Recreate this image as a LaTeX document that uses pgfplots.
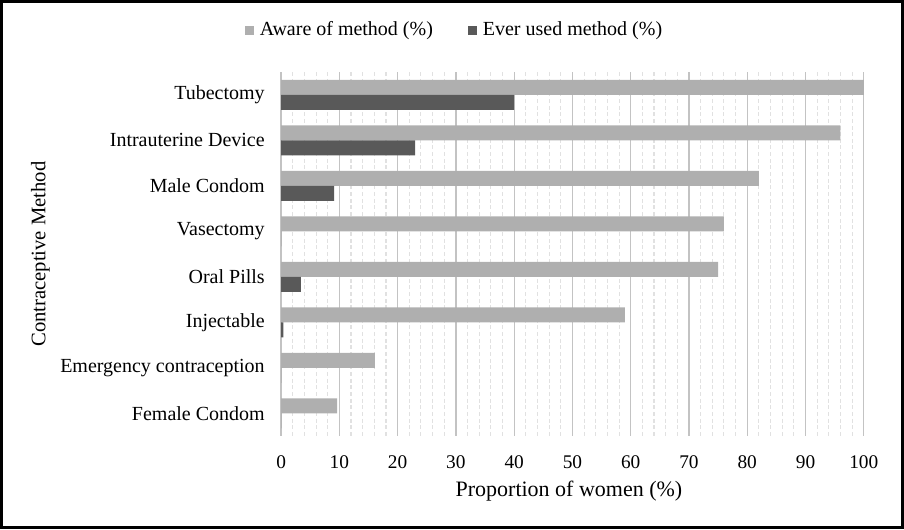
\documentclass[border=0pt]{standalone}
\usepackage{pgfplots}
\pgfplotsset{compat=1.18}
\usepackage{fontspec}
\setmainfont{Liberation Serif}
\definecolor{aware}{RGB}{175,175,175}
\definecolor{used}{RGB}{89,89,89}
\definecolor{majgrid}{RGB}{195,195,195}
\definecolor{mingrid}{RGB}{225,225,225}
\begin{document}
\begin{tikzpicture}[x=0.75pt,y=0.75pt]
\fontsize{14.5}{17}\selectfont
\path[draw=black,line width=2.6pt] (1.5,1.5) rectangle (902.5,527.5);
\begin{axis}[
  at={(210.75pt,69.75pt)}, anchor=south west,
  width=437.25pt, height=273pt, scale only axis,
  xmin=0, xmax=100, ymin=-0.5, ymax=7.5,
  y dir=reverse,
  xbar, bar width=11.25pt,
  xtick={0,10,...,100},
  minor x tick num=4,
  ytick={0,...,7},
  yticklabels={Tubectomy,Intrauterine Device,Male Condom,Vasectomy,Oral Pills,Injectable,Emergency contraception,Female Condom},
  axis line style={draw=none},
  tick style={draw=none},
  xmajorgrids, xminorgrids,
  major grid style={majgrid, line width=1pt},
  minor grid style={mingrid, line width=0.8pt, densely dashed},
  yticklabel style={font=\fontsize{15}{17}\selectfont},
  xticklabel style={font=\fontsize{14.5}{17}\selectfont},
  /pgf/number format/assume math mode=true,
  xticklabel shift=10pt,
  yticklabel shift=3pt,
  xlabel={Proportion of women (\%)},
  ylabel={Contraceptive Method},
  xlabel style={font=\fontsize{16.5}{19}\selectfont, at={(axis description cs:0.494,-0.151)}, anchor=center},
  ylabel style={font=\fontsize{15.5}{18}\selectfont, at={(axis description cs:-0.413,0.5)}, anchor=center},
  legend style={at={(axis description cs:0.298,1.115)}, anchor=center, draw=none, legend columns=2,
    font=\fontsize{15}{17}\selectfont,
    /tikz/every even column/.append style={column sep=24pt}},
  legend image code/.code={\fill[#1] (0pt,-3.4pt) rectangle (6.8pt,3.4pt); \path (0pt,0pt) (9.5pt,0pt);},
]
\addplot[draw=none, fill=aware, bar shift=5.625pt] coordinates {
(100,0) (96,1) (82,2) (76,3) (75,4) (59,5) (16.1,6) (9.6,7)};
\addlegendentry{Aware of method (\%)}
\addplot[draw=none, fill=used, bar shift=-5.625pt] coordinates {
(40,0) (23,1) (9.1,2) (0,3) (3.4,4) (0.4,5) (0,6) (0,7)};
\addlegendentry{Ever used method (\%)}
\end{axis}
\end{tikzpicture}
\end{document}
